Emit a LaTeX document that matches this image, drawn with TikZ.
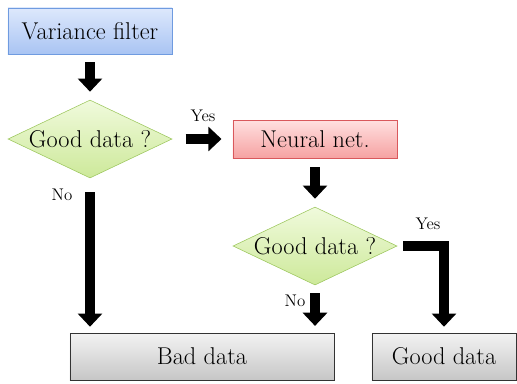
\documentclass[tikz,border=0pt]{standalone}
\usetikzlibrary{shapes.geometric,arrows.meta,shadows}
\definecolor{vfborder}{HTML}{6F9BE0}
\definecolor{vftop}{HTML}{DDE8FC}
\definecolor{vfbot}{HTML}{A9C4F3}
\definecolor{nnborder}{HTML}{D9585C}
\definecolor{nntop}{HTML}{FFE0E0}
\definecolor{nnbot}{HTML}{F6A2A2}
\definecolor{decborder}{HTML}{9DC75E}
\definecolor{dectop}{HTML}{F0FADC}
\definecolor{decbot}{HTML}{CDE99A}
\definecolor{outtop}{HTML}{F3F3F3}
\definecolor{outbot}{HTML}{C6C6C6}
\begin{document}
\begin{tikzpicture}[x=0.025cm,y=-0.025cm,
    procbox/.style={rectangle, draw, font=\LARGE, inner sep=2pt,
      drop shadow={shadow xshift=0.6pt, shadow yshift=-0.8pt, opacity=0.3}},
    decision/.style={diamond, aspect=2.1, draw=decborder, top color=dectop,
      bottom color=decbot, font=\LARGE, inner sep=0pt,
      minimum width=4.1cm, minimum height=1.95cm},
    bigarrow/.style={line width=0.27cm, line join=miter,
      -{Triangle[width=0.6cm,length=0.33cm]}},
    lbl/.style={font=\large, inner sep=1pt}]
    \useasboundingbox (0,0) rectangle (517,383);

    % boxes
    \node[procbox, draw=vfborder, top color=vftop, bottom color=vfbot,
      minimum width=4.1cm, minimum height=1.15cm] (vf) at (90,31) {Variance filter};
    \node[decision] (dec1) at (90,139) {Good data ?};
    \node[procbox, draw=nnborder, top color=nntop, bottom color=nnbot,
      minimum width=4.1cm, minimum height=0.95cm] (nn) at (315,139) {Neural net.};
    \node[decision] (dec2) at (315,246) {Good data ?};
    \node[procbox, draw=black!80, top color=outtop, bottom color=outbot,
      minimum width=6.6cm, minimum height=1.175cm] (bad) at (202,356.5) {Bad data};
    \node[procbox, draw=black!80, top color=outtop, bottom color=outbot,
      minimum width=3.6cm, minimum height=1.175cm] (good) at (444,356.5) {Good data};

    % arrows
    \draw[bigarrow, shorten <=0.2cm, shorten >=0.2cm] (vf) -- (dec1);
    \draw[bigarrow, shorten <=0.33cm, shorten >=0.28cm] (dec1.east) -- (nn.west);
    \draw[bigarrow, shorten <=0.22cm, shorten >=0.2cm] (nn) -- (dec2);
    \draw[bigarrow, shorten <=0.35cm, shorten >=0.15cm] (dec1.south) -- (dec1.south |- bad.north);
    \draw[bigarrow, shorten <=0.2cm, shorten >=0.17cm] (dec2.south) -- (dec2.south |- bad.north);
    \coordinate (elbow) at (good.north |- dec2.east);
    \draw[bigarrow, shorten <=0.15cm, shorten >=0.15cm] (dec2.east) -- (elbow) -- (good.north);

    % labels
    \node[lbl] (yes1) at (203,116) {Yes};
    \node[lbl] (no1) at (62,195) {No};
    \node[lbl] (no2) at (295,301) {No};
    \node[lbl] (yes2) at (428,224) {Yes};
\end{tikzpicture}
\end{document}
